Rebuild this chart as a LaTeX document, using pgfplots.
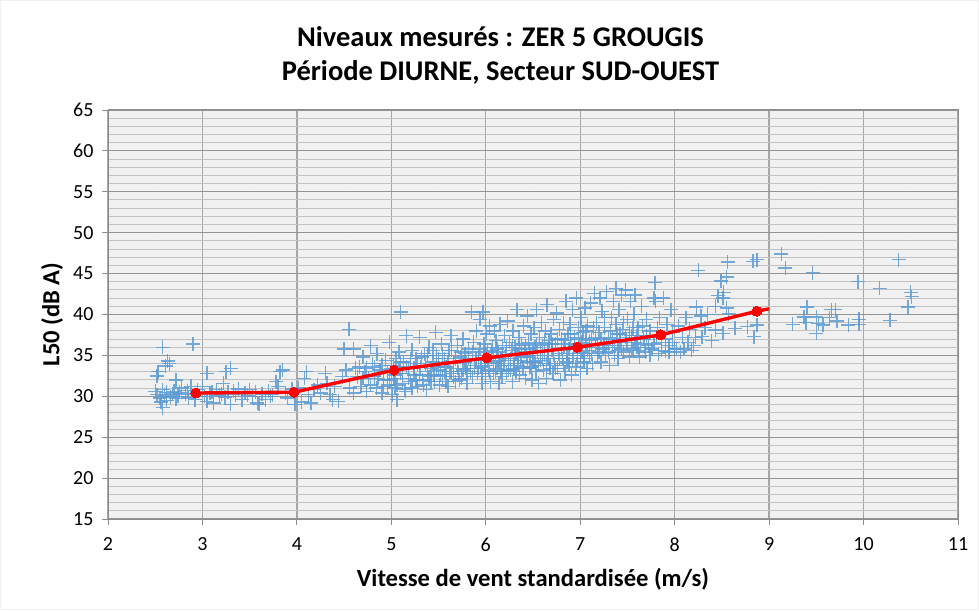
\documentclass[border=0pt]{standalone}
\usepackage{pgfplots}
\pgfplotsset{compat=1.18}
\usepackage{fontspec}
\setmainfont{Carlito}
\definecolor{ptblue}{HTML}{5B9BD5}
\definecolor{plotbg}{HTML}{F1F1F1}
\begin{document}
\begin{tikzpicture}[x=1pt,y=1pt]
\path[use as bounding box,fill=white] (0,0) rectangle (979,610);
\draw[draw=black!6,line width=0.8pt] (0.5,0.5) rectangle (978.5,609.5);
\node[font=\fontsize{28.5}{34}\selectfont\bfseries,align=center] at (500.5,555) {Niveaux mesurés : ZER 5 GROUGIS\\Période DIURNE, Secteur SUD-OUEST};
\begin{axis}[
  at={(108pt,91pt)},anchor=south west,
  scale only axis,width=850pt,height=409pt,
  xmin=2,xmax=11,ymin=15,ymax=65,
  xtick={2,...,11},ytick={15,20,...,65},
  minor x tick num=1,minor y tick num=4,
  grid=both,
  axis background/.style={fill=plotbg},
  major x grid style={draw=black!35,line width=1.3pt},
  major y grid style={draw=black!42,line width=1.1pt},
  minor x grid style={draw=black!6,line width=1pt},
  minor y grid style={draw=black!24,line width=1pt},
  axis line style={draw=black!45,line width=1pt},
  tick align=outside,
  major tick length=6pt,minor tick length=0pt,
  tick style={draw=black!45,line width=0.8pt},
  xtick pos=bottom,ytick pos=left,
  tick label style={font=\fontsize{20}{20}\selectfont},
  xticklabel style={yshift=-9pt},
  yticklabel style={xshift=-5pt},
  /pgf/number format/assume math mode=true,
  xlabel={\bfseries Vitesse de vent standardisée (m/s)},
  ylabel={\bfseries L50 (dB A)},
  label style={font=\fontsize{24.6}{24.6}\selectfont},
  xlabel style={at={(axis description cs:0.5,0)},anchor=center,yshift=-60pt},
  ylabel style={at={(axis description cs:0,0.5)},anchor=center,yshift=56pt},
  clip=false,
]
\addplot[only marks,mark=+,mark size=7pt,mark options={draw=ptblue,line width=1.35pt,draw opacity=0.85}] table {
x y
2.58 36.0
2.90 36.4
2.63 34.3
2.65 34.0
2.61 33.7
2.53 33.0
2.52 32.5
3.30 33.4
3.25 33.0
3.05 32.8
2.72 32.0
2.50 30.6
2.52 30.2
2.55 29.8
2.58 30.8
2.60 30.1
2.62 30.5
2.66 29.9
2.70 30.6
2.74 30.0
2.78 31.0
2.82 30.3
2.85 29.8
2.88 31.2
2.58 28.6
2.56 29.3
2.62 29.5
2.72 29.7
2.92 29.6
2.95 30.8
3.00 31.2
3.02 30.0
3.05 29.4
3.08 30.4
3.12 29.2
3.15 30.8
3.18 30.1
3.22 31.6
3.24 29.9
3.27 30.5
3.30 29.0
3.35 30.2
3.38 30.9
3.42 29.6
3.45 30.4
3.50 30.8
3.53 30.0
3.58 29.2
3.60 29.0
3.63 30.3
3.67 29.6
3.70 30.6
3.74 30.2
3.78 31.8
3.82 33.0
3.85 33.2
3.80 31.2
3.88 30.4
3.90 29.8
3.95 30.9
3.98 29.0
4.02 31.0
4.05 29.3
4.08 32.2
4.10 33.0
4.12 30.2
4.15 29.2
4.18 30.8
4.22 31.4
4.25 30.4
4.30 32.8
4.32 31.6
4.35 30.2
4.38 29.6
4.40 31.2
4.44 29.4
4.48 32.4
4.50 35.8
4.55 38.2
4.60 35.8
4.62 33.4
4.52 33.2
4.56 31.0
4.60 30.4
4.64 32.4
4.66 33.6
4.68 31.2
4.70 34.8
4.72 33.0
4.74 30.6
4.76 32.2
4.78 36.2
4.80 34.0
4.82 32.4
4.84 31.0
4.85 35.2
4.88 33.2
4.90 30.4
4.92 32.0
4.94 34.4
4.96 31.4
4.98 36.6
5.00 33.4
5.01 30.2
5.03 32.2
5.04 31.0
5.05 34.6
5.06 29.6
5.08 35.4
5.10 40.3
5.10 32.8
5.12 31.6
5.13 34.2
5.15 30.6
5.16 37.4
5.18 33.4
5.20 31.8
5.22 35.6
5.24 32.6
5.26 34.6
5.28 31.2
5.30 37.2
5.31 33.6
5.33 32.0
5.35 35.2
5.37 30.8
5.38 33.0
5.40 36.0
5.42 31.8
5.44 34.2
5.45 32.6
5.47 37.8
5.48 35.0
5.50 33.2
5.51 31.4
5.53 36.4
5.54 32.4
5.56 34.6
5.58 33.6
5.60 31.2
5.61 35.6
5.63 37.4
5.64 32.8
5.66 34.0
5.68 31.8
5.70 36.2
5.71 33.0
5.73 34.8
5.74 32.2
5.76 37.0
5.78 35.2
5.79 33.4
5.80 31.6
5.82 35.8
5.84 33.8
5.85 40.3
5.86 32.4
5.87 36.6
5.89 34.4
5.90 38.0
5.91 32.8
5.92 35.0
5.94 39.4
5.95 33.6
5.96 31.6
5.97 40.3
5.98 36.4
5.99 34.0
6.00 32.4
6.01 37.6
6.02 35.4
6.03 33.2
6.04 38.6
6.05 31.8
6.06 34.8
6.07 36.0
6.08 32.8
6.09 38.0
6.10 34.2
6.11 36.8
6.12 33.4
6.13 35.4
6.14 31.6
6.15 38.8
6.16 34.6
6.17 32.4
6.18 36.2
6.19 33.8
6.20 37.4
6.21 35.0
6.22 32.8
6.23 39.2
6.24 34.4
6.25 36.6
6.26 33.2
6.27 35.6
6.28 31.8
6.29 38.0
6.30 34.0
6.31 36.0
6.32 33.0
6.33 40.6
6.34 35.0
6.35 37.2
6.36 32.6
6.37 34.4
6.38 36.4
6.39 33.6
6.40 38.6
6.41 35.4
6.42 32.2
6.43 34.8
6.44 39.8
6.45 36.6
6.46 33.4
6.47 35.2
6.48 37.6
6.49 32.0
6.50 34.2
6.51 38.4
6.52 36.0
6.53 33.0
6.54 40.6
6.55 35.4
6.56 31.6
6.57 37.2
6.58 34.4
6.59 39.0
6.60 36.2
6.61 33.2
6.62 35.0
6.63 38.0
6.64 32.2
6.65 41.2
6.66 34.6
6.67 36.8
6.68 33.8
6.69 37.6
6.70 35.6
6.71 32.8
6.72 39.4
6.73 34.0
6.74 36.4
6.75 40.2
6.76 33.4
6.77 35.2
6.78 38.2
6.79 32.0
6.80 37.0
6.81 34.6
6.82 39.0
6.83 36.0
6.84 33.0
6.85 41.6
6.86 35.2
6.87 37.6
6.88 34.0
6.89 38.8
6.90 36.4
6.91 32.6
6.92 40.6
6.93 35.0
6.94 37.2
6.95 33.6
6.96 42.0
6.97 34.6
6.98 38.4
6.99 36.0
7.00 33.0
7.01 39.6
7.02 35.4
7.03 37.8
7.04 34.2
7.05 40.8
7.06 36.4
7.07 33.4
7.08 38.6
7.10 35.0
7.11 41.4
7.12 37.0
7.13 34.0
7.15 42.6
7.16 36.0
7.17 39.0
7.18 35.0
7.20 37.8
7.21 42.0
7.22 34.2
7.23 40.4
7.25 36.4
7.26 38.4
7.27 35.2
7.28 42.8
7.30 37.2
7.31 33.8
7.33 39.6
7.34 36.0
7.35 41.6
7.36 35.0
7.38 43.2
7.39 37.6
7.40 34.6
7.41 40.6
7.42 36.6
7.44 42.4
7.45 38.2
7.46 35.4
7.48 43.0
7.49 36.8
7.50 39.4
7.52 34.8
7.53 41.6
7.54 37.4
7.56 35.8
7.57 40.0
7.58 42.4
7.60 36.0
7.61 38.4
7.63 34.8
7.65 41.0
7.67 37.0
7.69 35.4
7.70 39.4
7.72 36.2
7.74 38.0
7.76 35.8
7.78 42.0
7.79 43.9
7.80 41.6
7.81 37.2
7.83 35.2
7.84 39.6
7.86 36.6
7.88 42.0
7.90 35.5
7.92 38.8
7.94 36.2
7.96 40.6
7.98 37.8
8.00 35.8
8.02 35.8
8.04 38.6
8.06 35.4
8.08 37.2
8.10 35.8
8.12 39.6
8.14 36.6
8.16 38.2
8.18 35.6
8.20 36.2
8.22 37.2
8.23 40.9
8.25 45.4
8.28 39.8
8.29 37.3
8.32 38.4
8.35 40.0
8.39 36.8
8.43 41.0
8.43 38.1
8.46 42.3
8.49 44.1
8.51 42.0
8.51 37.7
8.52 42.7
8.55 44.6
8.55 40.8
8.56 46.4
8.57 40.1
8.64 38.3
8.77 38.5
8.83 46.5
8.87 46.7
8.87 38.7
8.84 37.3
9.13 47.4
9.17 45.7
9.25 38.8
9.37 39.7
9.39 39.0
9.40 40.9
9.46 45.1
9.50 39.7
9.50 37.7
9.52 38.9
9.57 38.7
9.64 39.6
9.66 40.6
9.70 40.6
9.72 39.2
9.84 38.7
9.94 44.0
9.95 39.4
9.95 38.8
10.17 43.2
10.28 39.3
10.37 46.7
10.47 40.9
10.50 42.7
10.51 42.2
2.68 30.3
2.76 30.5
2.84 30.7
3.10 30.5
3.20 30.3
3.33 30.6
3.48 30.1
3.56 30.5
3.72 30.0
4.70 32.2
4.74 33.4
4.78 31.4
4.82 33.6
4.86 32.2
4.90 33.8
4.92 31.2
4.96 33.0
4.98 32.0
5.02 33.8
5.04 32.6
5.06 31.4
5.08 33.4
5.10 34.2
5.12 32.8
5.14 30.8
5.16 33.6
5.18 32.2
5.20 34.6
5.22 31.0
5.24 33.4
5.26 32.0
5.28 34.0
5.30 32.6
5.32 34.8
5.34 31.4
5.36 33.8
5.38 35.0
5.40 32.4
5.42 33.4
5.44 35.6
5.46 31.8
5.48 33.6
5.50 34.6
5.52 32.6
5.54 35.2
5.56 33.0
5.58 31.8
5.60 34.2
5.62 33.0
5.64 35.6
5.66 32.4
5.68 34.6
5.70 33.4
5.72 32.0
5.74 35.4
5.76 33.2
5.78 34.2
5.80 32.8
5.82 34.6
5.84 33.0
5.86 35.4
5.88 33.4
5.90 34.6
5.92 33.4
5.94 35.8
5.96 32.8
5.98 35.0
6.00 33.8
6.02 34.4
6.04 33.0
6.06 35.6
6.08 34.4
6.10 33.0
6.12 35.8
6.14 34.0
6.16 33.0
6.18 35.0
6.20 33.8
6.22 36.0
6.24 33.2
6.26 34.6
6.28 36.2
6.30 33.4
6.32 35.2
6.34 33.8
6.36 35.8
6.38 34.8
6.40 33.4
6.42 36.2
6.44 34.2
6.46 35.8
6.48 33.6
6.50 35.4
6.52 34.2
6.54 36.4
6.56 33.8
6.58 35.6
6.60 34.6
6.62 36.6
6.64 34.0
6.66 35.6
6.68 33.4
6.70 36.4
6.72 35.0
6.74 33.4
6.76 37.0
6.78 34.6
6.80 35.8
6.82 33.8
6.84 36.8
6.86 34.2
6.88 35.8
6.90 37.6
6.92 34.6
6.94 36.2
6.96 34.0
6.98 37.0
7.00 35.2
7.02 36.6
7.04 34.6
7.06 38.0
7.08 35.6
7.10 36.8
7.12 35.2
7.14 38.4
7.16 37.2
7.18 36.2
7.20 35.4
7.22 37.0
7.24 35.8
7.26 39.6
7.28 36.2
7.30 35.4
7.32 38.0
7.34 37.0
7.36 36.2
7.38 38.8
7.40 35.6
7.42 37.6
7.44 35.8
7.46 39.0
7.48 37.2
7.50 36.2
7.52 37.8
7.54 35.6
7.56 38.4
7.58 36.6
7.60 37.4
7.62 35.6
7.64 36.4
7.66 38.6
7.68 36.0
7.70 37.4
7.74 35.0
7.78 36.4
7.82 38.4
7.86 35.6
7.90 37.0
7.94 35.4
7.98 36.6
};
\end{axis}
\begin{axis}[
  at={(108pt,91pt)},anchor=south west,
  scale only axis,width=850pt,height=409pt,
  xmin=2,xmax=11,ymin=15,ymax=65,
  hide axis,clip=false,
]
\addplot[red,line width=3.4pt,forget plot] coordinates {
(2.93,30.4) (3.97,30.5) (5.03,33.2) (6.01,34.7) (6.97,36.0) (7.85,37.5) (8.87,40.4) (9.0,40.7)};
\addplot[only marks,mark=*,mark size=5pt,mark options={fill=red,draw=red,line width=0pt}] coordinates {
(2.93,30.4) (3.97,30.5) (5.03,33.2) (6.01,34.7) (6.97,36.0) (7.85,37.5) (8.87,40.4)};
\end{axis}
\end{tikzpicture}
\end{document}
